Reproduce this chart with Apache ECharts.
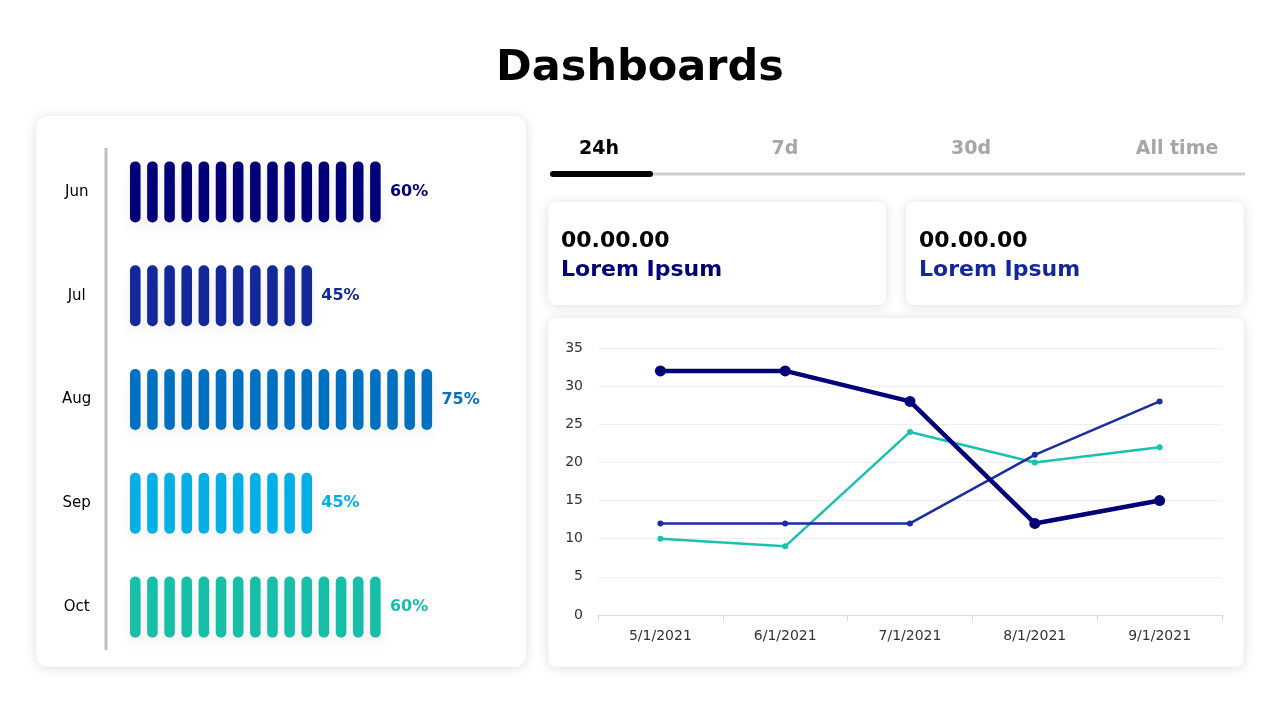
<!DOCTYPE html>
<html>
<head>
<meta charset="utf-8">
<script src="https://cdn.jsdelivr.net/npm/echarts@6/dist/echarts.min.js"></script>
<style>
html,body{margin:0;padding:0;background:#fff;}
#main{width:1280px;height:720px;}
</style>
</head>
<body>
<div id="main"></div>
<script>
// ---- data ----
const months = ['Jun', 'Jul', 'Aug', 'Sep', 'Oct'];
const monthPct = [60, 45, 75, 45, 60];
const monthPills = [15, 11, 18, 11, 15];
const monthColors = ['#020079', '#15289b', '#0070c0', '#06aee6', '#17bfa9'];
const monthBorders = ['#020079', '#0f1f88', '#0066b0', '#0598c9', '#0e9e8a'];

const dates = ['5/1/2021', '6/1/2021', '7/1/2021', '8/1/2021', '9/1/2021'];
const seriesA = [32, 32, 28, 12, 15];
const seriesB = [12, 12, 12, 21, 28];
const seriesC = [10, 9, 24, 20, 22];
const yTicks = [0, 5, 10, 15, 20, 25, 30, 35];

const tabs = ['24h', '7d', '30d', 'All time'];
const tabX = [599, 785, 971, 1177];

const FONT = 'DejaVu Sans';
const pillPath = 'path://M0,5A5,5,0,0,1,10,5L10,56A5,5,0,0,1,0,56Z';

const chart = echarts.init(document.getElementById('main'), null, {renderer: 'canvas'});

const cardShadow = {shadowBlur: 12, shadowColor: 'rgba(0,0,0,0.14)', shadowOffsetX: 0, shadowOffsetY: 1};

const graphics = [
  {type: 'text', x: 640, y: 69, style: {text: 'Dashboards', font: 'bold 43px "' + FONT + '"', fill: '#000', align: 'center', verticalAlign: 'middle'}},
  {type: 'rect', shape: {x: 36, y: 116, width: 490, height: 551, r: 12}, style: Object.assign({fill: '#fff'}, cardShadow), z: -10},
  {type: 'line', shape: {x1: 106, y1: 148, x2: 106, y2: 650}, style: {stroke: '#bfbfbf', lineWidth: 3}, z: 1},
  // tabs underline
  {type: 'line', shape: {x1: 550, y1: 174, x2: 1245, y2: 174}, style: {stroke: '#cfcfcf', lineWidth: 3}},
  {type: 'line', shape: {x1: 553, y1: 174, x2: 650, y2: 174}, style: {stroke: '#000', lineWidth: 6, lineCap: 'round'}, z: 2},
  // info cards
  {type: 'rect', shape: {x: 548, y: 202, width: 338, height: 103, r: 8}, style: Object.assign({fill: '#fff'}, cardShadow), z: -10},
  {type: 'rect', shape: {x: 906, y: 202, width: 338, height: 103, r: 8}, style: Object.assign({fill: '#fff'}, cardShadow), z: -10},
  {type: 'text', x: 561, y: 241, style: {text: '00.00.00', font: 'bold 22px "' + FONT + '"', fill: '#000', verticalAlign: 'middle'}},
  {type: 'text', x: 561, y: 270, style: {text: 'Lorem Ipsum', font: 'bold 22px "' + FONT + '"', fill: '#020079', verticalAlign: 'middle'}},
  {type: 'text', x: 919, y: 241, style: {text: '00.00.00', font: 'bold 22px "' + FONT + '"', fill: '#000', verticalAlign: 'middle'}},
  {type: 'text', x: 919, y: 270, style: {text: 'Lorem Ipsum', font: 'bold 22px "' + FONT + '"', fill: '#15289b', verticalAlign: 'middle'}},
  // line chart card
  {type: 'rect', shape: {x: 548, y: 318, width: 696, height: 349, r: 8}, style: Object.assign({fill: '#fff'}, cardShadow), z: -10}
];
tabs.forEach(function (t, i) {
  graphics.push({type: 'text', x: tabX[i], y: 149, style: {
    text: t, font: 'bold 19px "' + FONT + '"', fill: i === 0 ? '#000' : '#a6a6a6',
    align: 'center', verticalAlign: 'middle'}});
});

const option = {
  animation: false,
  backgroundColor: '#fff',
  graphic: graphics,
  grid: [
    {left: 126.7, top: 140, width: 343, height: 519},
    {left: 598, top: 348, width: 624, height: 267}
  ],
  xAxis: [
    {gridIndex: 0, type: 'value', min: 0, max: 20, show: false},
    {gridIndex: 1, type: 'category', data: dates, boundaryGap: true,
      axisLine: {lineStyle: {color: '#d9d9d9', width: 1}},
      axisTick: {show: true, length: 6, lineStyle: {color: '#d9d9d9'}},
      axisLabel: {color: '#333', fontFamily: FONT, fontSize: 14, margin: 14},
      splitLine: {show: false}}
  ],
  yAxis: [
    {gridIndex: 0, type: 'category', data: months, inverse: true,
      axisLine: {show: false}, axisTick: {show: false}, splitLine: {show: false},
      axisLabel: {color: '#000', fontFamily: FONT, fontSize: 15, align: 'center', margin: 50}},
    {gridIndex: 1, type: 'value', min: 0, max: 35, interval: 5,
      axisLine: {show: false}, axisTick: {show: false},
      axisLabel: {color: '#333', fontFamily: FONT, fontSize: 14, margin: 15},
      splitLine: {lineStyle: {color: '#eeeeee', width: 1}}}
  ],
  series: [
    {
      type: 'pictorialBar', xAxisIndex: 0, yAxisIndex: 0,
      symbol: pillPath, symbolSize: [10.5, 61], symbolRepeat: true, symbolMargin: '3.5!',
      symbolPosition: 'start',
      data: monthPills.map(function (v, i) {
        return {
          value: v,
          itemStyle: {color: monthColors[i], borderColor: monthBorders[i], borderWidth: 0.8,
            shadowBlur: 14, shadowColor: 'rgba(0,0,0,0.06)', shadowOffsetY: 8},
          label: {color: monthColors[i]}
        };
      }),
      label: {show: true, position: 'right', distance: 6, fontFamily: FONT, fontWeight: 'bold', fontSize: 16,
        formatter: function (p) { return monthPct[p.dataIndex] + '%'; }},
      z: 3
    },
    {
      type: 'line', xAxisIndex: 1, yAxisIndex: 1, data: seriesC,
      symbol: 'circle', symbolSize: 6, lineStyle: {width: 2.5, color: '#19c1b0'},
      itemStyle: {color: '#19c1b0'}, z: 3
    },
    {
      type: 'line', xAxisIndex: 1, yAxisIndex: 1, data: seriesB,
      symbol: 'circle', symbolSize: 6, lineStyle: {width: 2.5, color: '#1a2ea0'},
      itemStyle: {color: '#1a2ea0'}, z: 4
    },
    {
      type: 'line', xAxisIndex: 1, yAxisIndex: 1, data: seriesA,
      symbol: 'circle', symbolSize: 11, lineStyle: {width: 4.5, color: '#020079'},
      itemStyle: {color: '#020079'}, z: 5
    }
  ]
};
chart.setOption(option);
</script>
</body>
</html>
